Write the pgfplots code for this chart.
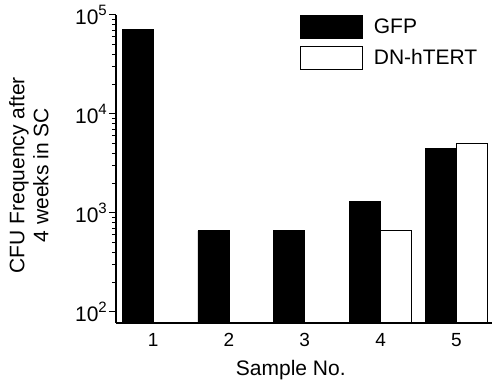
\documentclass[border=0pt]{standalone}
\usepackage{pgfplots}
\pgfplotsset{compat=1.18}
\usepackage{fontspec}
\setmainfont{Liberation Sans}
\newcommand{\sups}[1]{\raisebox{0.42em}{\fontsize{15}{15}\selectfont #1}}
\begin{document}
\begin{tikzpicture}
\begin{axis}[
  scale only axis, width=376pt, height=308pt,
  ymode=log, ymin=77.4, ymax=1e5, xmin=0.51, xmax=5.47,
  axis x line=bottom, axis y line=left,
  axis line style={line width=1.4pt, -},
  axis on top,
  xtick={1,2,3,4,5}, xticklabels={1,2,3,4,5},
  x tick style={draw=none},
  ytick={100,1000,10000,100000},
  yticklabels={10\sups{2},10\sups{3},10\sups{4},10\sups{5}},
  minor ytick={200,300,400,500,600,700,800,900,2000,3000,4000,5000,6000,7000,8000,9000,20000,30000,40000,50000,60000,70000,80000,90000},
  tick align=outside, major tick length=7pt, minor tick length=4pt,
  y tick style={line width=1pt, black},
  xticklabel style={font=\fontsize{19}{19}\selectfont},
  yticklabel style={font=\fontsize{21}{21}\selectfont, inner sep=2pt},
  xlabel={Sample No.},
  xlabel style={font=\fontsize{21}{21}\selectfont, at={(axis description cs:0.465,0)}, anchor=base, yshift=-53pt},
  ylabel={CFU Frequency after\\4 weeks in SC},
  ylabel style={font=\fontsize{21}{24}\selectfont, align=center, at={(axis description cs:-0.17,0.48)}, anchor=south},
  legend style={draw=none, fill=none, inner sep=0pt, at={(rel axis cs:0.489,1)}, anchor=north west,
    row sep=7pt, font=\fontsize{21}{21}\selectfont, cells={anchor=west},
    /tikz/every odd column/.append style={column sep=9pt}},
  legend image code/.code={\draw[#1] (0pt,-11.5pt) rectangle (62pt,11.5pt);},
]
\addplot[ybar, bar width=31pt, bar shift=-15.5pt, fill=black, draw=black, line width=0.8pt]
  coordinates {(1,71800) (2,660) (3,660) (4,1300) (5,4500)};
\addlegendentry{GFP}
\addplot[ybar, bar width=31pt, bar shift=15.5pt, fill=white, draw=black, line width=0.8pt]
  coordinates {(4,660) (5,5000)};
\addlegendentry{DN-hTERT}
\end{axis}
\pgfresetboundingbox
\path[use as bounding box] (-116pt,-59pt) rectangle (377pt,323pt);
\end{tikzpicture}
\end{document}
